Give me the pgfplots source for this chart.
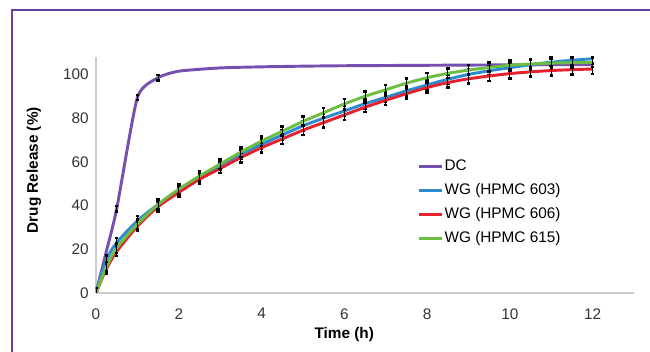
\documentclass[border=0pt]{standalone}
\usepackage{pgfplots}
\pgfplotsset{compat=1.18}
\usepackage{pgfplotstable}
\usepackage{fontspec}
\setmainfont{Liberation Sans}

\definecolor{dcpurple}{HTML}{7650B0}
\definecolor{wgblue}{HTML}{2A8CCF}
\definecolor{wgred}{HTML}{E6212F}
\definecolor{wggreen}{HTML}{6CBD42}
\definecolor{framepurple}{HTML}{6A3DA3}

% Dissolution profiles: time (h), release (%)
\pgfplotstableread{
t y
0 0
0.25 19
0.5 38.5
1 89.5
1.5 98.5
2 101.5
3 103
4 103.5
5 103.8
6 104
8 104.2
10 104.4
12 104.5
}\dc
\pgfplotstableread{
t y
0.5 38.5
1 89.5
1.5 98.5
}\dcerr
\pgfplotstableread{
t y
0 0
0.25 15
0.5 23
1 33
1.5 40.5
2 47
2.5 53
3 58.5
3.5 63.5
4 68
4.5 72.3
5 76.5
5.5 80
6 83.3
6.5 86.6
7 89.5
7.5 92.5
8 95.2
8.5 97.8
9 100
9.5 101.7
10 103.1
10.5 104.5
11 105.6
11.5 106.5
12 107.2
}\hpmcA
\pgfplotstableread{
t y
0 0
0.25 11
0.5 19
1 30.5
1.5 39.5
2 46
2.5 52
3 57
3.5 62
4 66.5
4.5 70.5
5 74.5
5.5 78
6 81.5
6.5 85
7 88.2
7.5 91.2
8 94
8.5 96.3
9 98
9.5 99.3
10 100.4
10.5 101.2
11 101.8
11.5 102.2
12 102.5
}\hpmcB
\pgfplotstableread{
t y
0 0
0.25 12
0.5 20.5
1 31.5
1.5 40.5
2 47.5
2.5 53.5
3 59
3.5 64.5
4 69.5
4.5 74
5 78.5
5.5 82.5
6 86.5
6.5 90
7 93
7.5 96
8 98.5
8.5 100.5
9 102
9.5 103.2
10 104.2
10.5 104.8
11 105.2
11.5 105.4
12 105.5
}\hpmcC

\begin{document}
\begin{tikzpicture}
\path[use as bounding box] (-72pt,-44.25pt) rectangle (415.5pt,219.75pt);
\draw[framepurple, line width=1.7pt] (-63pt,-60pt) -- (-63pt,212.5pt) -- (430pt,212.5pt);
\begin{axis}[
  at={(0,0)}, anchor=south west,
  scale only axis, width=403.5pt, height=177pt,
  xmin=0, xmax=13, ymin=0, ymax=108,
  axis x line*=bottom, axis y line*=left,
  axis line style={-, draw=black!20, line width=0.8pt},
  xtick={0,2,...,12}, ytick={0,20,...,100},
  major tick length=0pt,
  /pgf/number format/assume math mode=true,
  tick label style={font=\fontsize{11.5}{13}\selectfont, text=black!80},
  yticklabel style={xshift=-2pt},
  xticklabel style={yshift=-8pt},
  xlabel={Time (h)},
  ylabel={Drug Release (\%)},
  every axis x label/.style={at={([yshift=-31.5pt]rel axis cs:0.4615,0)}, anchor=center,
    font=\fontsize{11.5}{13}\selectfont\bfseries},
  every axis y label/.style={at={([xshift=-46.5pt]rel axis cs:0,0.52)}, rotate=90, anchor=center,
    font=\fontsize{11.5}{13}\selectfont\bfseries},
  legend style={at={(rel axis cs:0.597,0.575)}, anchor=north west, draw=none, fill=none,
    font=\fontsize{11.5}{13}\selectfont, row sep=5pt, inner sep=0pt,
    nodes={text height=8.5pt, text depth=2.5pt, inner sep=1pt}},
  legend cell align=left,
  legend image code/.code={\draw[#1, line width=2.4pt] (0pt,0pt) -- (17pt,0pt);},
  error bars/error bar style={black, line width=0.6pt},
  error bars/error mark options={black, mark size=1.3pt, line width=1.8pt, rotate=90},
]
\addplot[dcpurple, line width=2.2pt, smooth, tension=0.35] table[x=t,y=y] {\dc};
\addlegendentry{DC}
\addplot[wgblue, line width=2.2pt, smooth, error bars/.cd, y dir=both, y fixed=2.2] table[x=t,y=y] {\hpmcA};
\addlegendentry{WG (HPMC 603)}
\addplot[wgred, line width=2.2pt, smooth, error bars/.cd, y dir=both, y fixed=2.2] table[x=t,y=y] {\hpmcB};
\addlegendentry{WG (HPMC 606)}
\addplot[wggreen, line width=2.2pt, smooth, error bars/.cd, y dir=both, y fixed=2.2] table[x=t,y=y] {\hpmcC};
\addlegendentry{WG (HPMC 615)}
\addplot[draw=none, forget plot, error bars/.cd, y dir=both, y fixed=1.2] table[x=t,y=y] {\dcerr};
\end{axis}
\end{tikzpicture}
\end{document}
